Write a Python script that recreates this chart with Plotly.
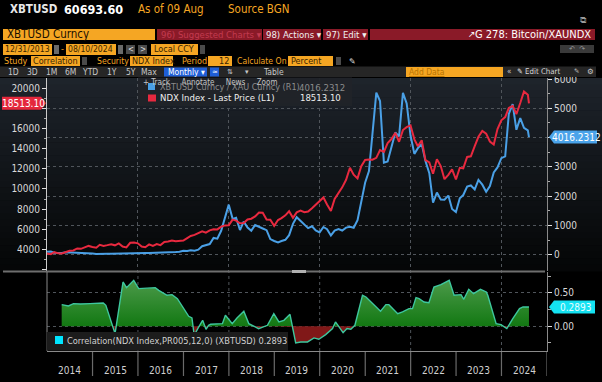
import plotly.graph_objects as go
import pandas as pd

# ---------------- data ----------------
month_dates = list(pd.date_range("2013-12-31", "2024-07-31", freq="ME").strftime("%Y-%m-%d")) + ["2024-08-09"]

ndx_last = [3592,
    3521, 3713, 3596, 3577, 3736, 3850, 3888, 4082, 4049, 4158, 4337, 4236,
    4150, 4441, 4334, 4415, 4509, 4397, 4588, 4274, 4182, 4648, 4665, 4593,
    4280, 4202, 4483, 4341, 4523, 4418, 4731, 4771, 4876, 4801, 4810, 4864,
    5115, 5330, 5436, 5584, 5789, 5647, 5880, 5988, 5980, 6248, 6374, 6397,
    6950, 6853, 6581, 6605, 6967, 7040, 7272, 7665, 7628, 6967, 6949, 6330,
    6906, 7096, 7378, 7781, 7127, 7671, 7848, 7692, 7750, 8084, 8411, 8733,
    9151, 8462, 7813, 9000, 9555, 10156, 10905, 12110, 11418, 11052, 12268, 12888,
    12925, 12909, 13091, 13860, 13687, 14554, 14959, 15583, 14690, 15850, 16135, 16320,
    14931, 14237, 14839, 12855, 12643, 11504, 12947, 12272, 10971, 11406, 11952, 10940,
    12102, 12042, 13182, 13246, 14254, 15180, 15758, 15501, 14716, 14409, 15948, 16826,
    17137, 18044, 18255, 17441, 18537, 19683, 19363, 18513.10]

xbt_xau = [102,
    110, 68, 56, 55, 80, 78, 73, 60, 51, 46, 52, 43,
    27, 34, 33, 32, 31, 36, 42, 33, 34, 44, 57, 65,
    53, 57, 54, 56, 70, 82, 74, 71, 74, 88, 102, 135,
    128, 153, 139, 171, 291, 321, 364, 572, 545, 816, 1249, 1709,
    1224, 1260, 841, 1129, 928, 820, 1015, 940, 894, 836, 532, 469,
    421, 469, 510, 666, 1054, 1280, 1146, 1016, 907, 972, 830, 763,
    946, 872, 657, 823, 878, 825, 924, 953, 919, 1181, 1783, 2456,
    2858, 4195, 5535, 5245, 3145, 3183, 3675, 4175, 4040, 5528, 5167, 4070,
    3443, 3638, 3780, 3196, 2783, 1774, 2121, 1884, 1880, 2018, 1561, 1459,
    1929, 2037, 2326, 2363, 2230, 2554, 2392, 2150, 2345, 2811, 2979, 3295,
    3356, 4809, 5141, 4266, 4664, 4333, 4245, 4016.2312]

corr_dates = ["2014-04-28", "2014-06-21", "2014-08-01", "2014-09-25", "2014-12-12", "2015-03-28",
    "2015-04-18", "2015-07-01", "2015-09-03", "2015-10-01", "2015-11-28", "2016-01-07",
    "2016-05-19", "2016-06-16", "2016-08-22", "2016-10-01", "2016-11-13", "2017-01-04",
    "2017-02-12", "2017-03-10", "2017-03-28", "2017-05-04", "2017-06-04", "2017-07-01",
    "2017-07-22", "2017-08-07", "2017-11-10", "2017-12-04", "2018-01-28", "2018-03-07",
    "2018-05-01", "2018-06-10", "2018-08-28", "2018-11-07", "2018-12-28", "2019-02-07",
    "2019-03-19", "2019-05-07", "2019-05-25", "2019-06-22", "2019-08-01", "2019-09-25",
    "2019-11-16", "2019-12-25", "2020-02-18", "2020-04-13", "2020-05-07", "2020-06-04",
    "2020-07-07", "2020-08-07", "2020-09-07", "2020-10-10", "2020-12-10", "2021-01-07",
    "2021-02-27", "2021-05-04", "2021-06-16", "2021-07-10", "2021-09-19", "2021-10-28",
    "2021-12-19", "2022-01-16", "2022-02-13", "2022-03-10", "2022-04-19", "2022-05-28",
    "2022-07-07", "2022-09-01", "2022-11-07", "2022-12-16", "2023-02-10", "2023-03-04",
    "2023-04-13", "2023-05-22", "2023-07-16", "2023-09-01", "2023-09-13", "2023-11-19",
    "2023-12-28", "2024-02-13", "2024-04-01", "2024-05-25", "2024-06-22", "2024-08-09"]
corr_values = [0.325, 0.305, 0.34, 0.335, 0.34, 0.35,
    0.315, -0.11, 0.665, 0.58, 0.69, 0.565,
    0.58, 0.54, 0.465, 0.475, 0.415, 0.265,
    0.15, 0.125, -0.135, -0.01, 0.09, -0.045,
    0.015, 0.03, 0.04, 0.165, 0.04, 0.125,
    0.225, 0.04, -0.035, 0.015, 0.19, 0.065,
    0.09, 0.18, -0.01, -0.25, -0.235, -0.235,
    -0.175, -0.195, -0.125, -0.035, 0.065, -0.01,
    -0.095, -0.035, -0.045, 0.015, 0.465, 0.44,
    0.34, 0.225, 0.325, 0.325, 0.19, 0.215,
    0.265, 0.265, 0.43, 0.415, 0.365, 0.355,
    0.59, 0.625, 0.69, 0.465, 0.475, 0.405,
    0.555, 0.49, 0.555, 0.515, 0.465, 0.04,
    0.025, -0.035, 0.115, 0.265, 0.29, 0.2893]

years = list(range(2014, 2025))
left_ticks = [2000, 4000, 6000, 8000, 10000, 12000, 14000, 16000, 18000, 20000]
left_labels = ["", "4000", "6000", "8000", "10000", "12000", "14000", "16000", "", "20000"]
right_ticks = [0, 1000, 2000, 3000, 4000, 5000, 6000]
right_labels = ["0", "1000", "2000", "3000", "", "5000", "6000"]
corr_ticks = [0.0, 0.5]
corr_labels = ["0.00", "0.50"]

# ---------------- styling ----------------
FONT = "Liberation Sans Narrow, DejaVu Sans Condensed, Liberation Sans, sans-serif"
RED = "#e8293f"
BLUE = "#4aa0e6"
ORANGE = "#f5a623"
BOXRED = "#8a1a28"
TICKC = "#d9d9d9"
GRID = "#50555b"

W, H = 602, 382
L, R, T, B = 47, 55, 78, 31
PW, PH = W - L - R, H - T - B
BOT = H - B


def X(px):
    return (px - L) / PW


def Y(py):
    return (BOT - py) / PH


shapes, annots = [], []


def box(x0, y0, x1, y1, color, layer="above"):
    shapes.append(dict(type="rect", xref="paper", yref="paper", x0=X(x0), x1=X(x1),
                       y0=Y(y1), y1=Y(y0), fillcolor=color, line_width=0, layer=layer))


def txt(px, py, s, color, size, anchor="left", family=FONT):
    annots.append(dict(xref="paper", yref="paper", x=X(px), y=Y(py), text=s, showarrow=False,
                       xanchor=anchor, yanchor="middle", borderpad=0,
                       font=dict(color=color, size=size, family=family)))


# gradient background for main panel
n = 30
top_c, bot_c = (30, 36, 43), (5, 6, 7)
for i in range(n):
    f = i / (n - 1)
    c = tuple(int(top_c[k] + (bot_c[k] - top_c[k]) * f) for k in range(3))
    y0 = T + (271 - T) * i / n
    y1 = T + (271 - T) * (i + 1) / n
    box(0, y0, 602, y1 + 0.5, "rgb(%d,%d,%d)" % c, layer="below")

# separator between panels
box(3, 270.5, 545, 272.5, "#6e6e6e")
box(292, 270, 306, 273, "#b0b0b0")
shapes.append(dict(type="line", xref="paper", yref="paper", x0=0, x1=0, y0=Y(351), y1=Y(272),
                   line=dict(color="#8a8a8a", width=1)))

# ---------------- header ----------------
txt(9, 9, "<b>XBTUSD</b>", "#e8e8e8", 11.5)
txt(63, 9, "<b>60693.60</b>", "#ffffff", 12.5)
txt(137, 9, "As of 09 Aug", ORANGE, 11.5)
txt(227, 9, "Source BGN", ORANGE, 11.5)
txt(583, 20, "⧉", "#9a9a9a", 9, anchor="center", family="DejaVu Sans")

# row 2
box(3, 29, 155, 40, ORANGE)
txt(6, 34.5, "XBTUSD Curncy", "#1a1000", 11.5)
box(157, 29, 262, 40, BOXRED)
txt(160, 34.5, "96) Suggested Charts ▾", "#c23a4f", 9.5)
box(263, 29, 321, 40, BOXRED)
txt(265, 34.5, "98) Actions ▾", "#f0f0f0", 9.5)
box(323, 29, 368, 40, BOXRED)
txt(325, 34.5, "97) Edit ▾", "#f0f0f0", 9.5)
box(370, 29, 595, 40, BOXRED)
txt(472, 34.5, "↗", "#ffffff", 9, anchor="center", family="DejaVu Sans")
txt(592, 34.5, "G 278: Bitcoin/XAUNDX", "#ffffff", 11, anchor="right")

# row 3
box(3, 44, 52, 55, ORANGE)
txt(4, 49.5, "12/31/2013", "#3a2500", 8.6)
box(54, 45, 59, 54, "#6a6a6a")
txt(62, 49.5, "-", ORANGE, 9, anchor="center")
box(66, 44, 116, 55, ORANGE)
txt(67, 49.5, "08/10/2024", "#3a2500", 8.6)
box(118, 45, 123, 54, "#6a6a6a")
box(126, 45, 135, 54, "#4a4a4a")
txt(130.5, 49.5, "<", "#dddddd", 8, anchor="center")
box(138, 45, 147, 54, "#4a4a4a")
txt(142.5, 49.5, ">", "#dddddd", 8, anchor="center")
box(151, 44, 198, 55, ORANGE)
txt(153, 49.5, "Local CCY", "#3a2500", 9)
box(200, 45, 205, 54, "#4a4a4a")
box(560, 45, 594, 53, "#3a3a3a")
txt(577, 49, "↶  ↷", "#9a9a9a", 7, anchor="center", family="DejaVu Sans")

# row 4
txt(3, 61, "Study", ORANGE, 9)
box(31, 56, 80, 66, ORANGE)
txt(32, 61, "Correlation", "#3a2500", 9)
box(82, 57, 87, 65, "#4a4a4a")
txt(96, 61, "Security", ORANGE, 8.6)
box(130, 56, 173, 66, ORANGE)
txt(131, 61, "NDX Index", "#3a2500", 9)
txt(181, 61, "Period", ORANGE, 9)
box(208, 56, 232, 66, ORANGE)
txt(230, 61, "12", "#3a2500", 9, anchor="right")
txt(236, 61, "Calculate On", ORANGE, 8.6)
box(288, 56, 333, 66, ORANGE)
txt(290, 61, "Percent", "#3a2500", 9)
box(336, 57, 341, 65, "#4a4a4a")
txt(352, 61, "✎", "#dddddd", 8, anchor="center", family="DejaVu Sans")

# row 5 toolbar
box(0, 66.5, 596, 77, "#262626")
for label, cx in [("1D", 13), ("3D", 32), ("1M", 51), ("6M", 70), ("YTD", 90),
                  ("1Y", 112), ("5Y", 131), ("Max", 149)]:
    txt(cx, 71.5, label, "#c8c8c8", 8.5, anchor="center")
box(164, 67.5, 207, 76.5, "#1f5ed6")
txt(167, 71.5, "Monthly ▾", "#ffffff", 8.5)
box(210, 67.5, 219, 76.5, "#1f5ed6")
txt(214.5, 71.5, "≃", "#ffffff", 7, anchor="center", family="DejaVu Sans")
txt(230, 71.5, "⇅", "#c8c8c8", 7, anchor="center", family="DejaVu Sans")
txt(247, 71.5, "▾", "#c8c8c8", 7, anchor="center", family="DejaVu Sans")
txt(273, 71.5, "Table", "#c8c8c8", 8.5, anchor="center")
box(406, 67, 503, 77, ORANGE)
txt(408, 71.5, "<u>Add Data</u>", "#b87400", 8.5)
txt(509, 71, "«", "#c8c8c8", 8, anchor="center")
txt(516, 71, "✎ Edit Chart", "#d8d8d8", 7.8)
txt(576, 71, "✎", "#c8c8c8", 6.5, anchor="center", family="DejaVu Sans")
txt(590, 71, "⚙", "#c8c8c8", 7.5, anchor="center", family="DejaVu Sans")

# ---------------- main legend ----------------
box(138, 77.5, 352, 106, "rgba(32,36,41,0.93)")
box(148, 83, 155, 90, BLUE)
txt(159, 87, "XBTUSD Curncy / XAU Curncy (R1)", "#8c8c8c", 9)
txt(346, 87, "4016.2312", "#8c8c8c", 9.5, anchor="right")
txt(142, 82.5, "+ Track     Annotate     News     Zoom", "#c4c4c4", 8)
box(148, 94.5, 156, 101.5, RED)
txt(159, 98, "NDX Index - Last Price (L1)", "#eeeeee", 9.5)
txt(342, 98, "18513.10", "#eeeeee", 9.5, anchor="right")

# ---------------- lower legend ----------------
box(46.5, 332, 288, 350.5, "#1c1c1c")
box(55, 336, 63, 344, "#00e5ff")
txt(66, 340, "Correlation(NDX Index,PR005,12,0) (XBTUSD) 0.2893", "#d0d0d0", 9.2)

# ---------------- value tags ----------------
shapes.append(dict(type="path", xref="paper", yref="y2", xsizemode="pixel", ysizemode="pixel",
                   xanchor=0, yanchor=ndx_last[-1],
                   path="M -1,0 L -6,6.5 L -45,6.5 L -45,-6.5 L -6,-6.5 Z",
                   fillcolor="#e4283c", line_width=0, layer="above"))
annots.append(dict(xref="paper", yref="y2", x=0, y=ndx_last[-1], xshift=-24, text="18513.10",
                   showarrow=False, xanchor="center", yanchor="middle",
                   font=dict(color="#ffffff", size=10, family=FONT)))
shapes.append(dict(type="path", xref="paper", yref="y", xsizemode="pixel", ysizemode="pixel",
                   xanchor=1, yanchor=xbt_xau[-1],
                   path="M 2,0 L 7,6.5 L 50,6.5 L 50,-6.5 L 7,-6.5 Z",
                   fillcolor="#4aa3ea", line_width=0, layer="above"))
annots.append(dict(xref="paper", yref="y", x=1, y=xbt_xau[-1], xshift=29, text="4016.2312",
                   showarrow=False, xanchor="center", yanchor="middle",
                   font=dict(color="#ffffff", size=10, family=FONT)))
shapes.append(dict(type="path", xref="paper", yref="y3", xsizemode="pixel", ysizemode="pixel",
                   xanchor=1, yanchor=corr_values[-1],
                   path="M 2,0 L 7,6.5 L 48,6.5 L 48,-6.5 L 7,-6.5 Z",
                   fillcolor="#14e2f2", line_width=0, layer="above"))
annots.append(dict(xref="paper", yref="y3", x=1, y=corr_values[-1], xshift=28, text="0.2893",
                   showarrow=False, xanchor="center", yanchor="middle",
                   font=dict(color="#e6fdff", size=10, family=FONT)))

# year labels + separators
for yr in years:
    annots.append(dict(xref="x2", yref="paper", x="%d-07-02" % yr, y=Y(370), text=str(yr),
                       showarrow=False, xanchor="center", yanchor="middle",
                       font=dict(color="#d0d0d0", size=10, family=FONT)))
for yr in years[1:] + [2025]:
    shapes.append(dict(type="line", xref="x2", yref="paper", x0="%d-01-01" % yr, x1="%d-01-01" % yr,
                       y0=Y(352), y1=Y(376), line=dict(color="#6a6a6a", width=1.2)))
for yr in [2016, 2018, 2020, 2022, 2024]:
    shapes.append(dict(type="line", xref="x2", yref="y3 domain", x0="%d-01-01" % yr, x1="%d-01-01" % yr,
                       y0=0, y1=1, layer="below", line=dict(color=GRID, width=1, dash="dot")))

# ---------------- correlation fill pieces ----------------
t = pd.to_datetime(corr_dates).astype("int64").tolist()
fx, fpos, fneg = [], [], []
for i, v in enumerate(corr_values):
    if i > 0:
        a, b = corr_values[i - 1], v
        if (a > 0 and b < 0) or (a < 0 and b > 0):
            f = a / (a - b)
            fx.append(t[i - 1] + f * (t[i] - t[i - 1]))
            fpos.append(0.0)
            fneg.append(0.0)
    fx.append(t[i])
    fpos.append(max(v, 0.0))
    fneg.append(min(v, 0.0))
fx = pd.to_datetime(fx)

fig = go.Figure()
fig.add_trace(go.Scatter(x=month_dates, y=xbt_xau, xaxis="x", yaxis="y", mode="lines",
                         line=dict(color=BLUE, width=2), hoverinfo="skip"))
fig.add_trace(go.Scatter(x=month_dates, y=ndx_last, xaxis="x", yaxis="y2", mode="lines",
                         line=dict(color=RED, width=2), hoverinfo="skip"))
fig.add_trace(go.Scatter(x=fx, y=fpos, xaxis="x2", yaxis="y3", mode="lines", line=dict(width=0),
                         fill="tozeroy",
                         fillgradient=dict(type="vertical",
                                           colorscale=[[0, "#127812"], [1, "#4c9a4a"]]),
                         hoverinfo="skip"))
fig.add_trace(go.Scatter(x=fx, y=fneg, xaxis="x2", yaxis="y3", mode="lines", line=dict(width=0),
                         fill="tozeroy", fillcolor="#801818", hoverinfo="skip"))
fig.add_trace(go.Scatter(x=corr_dates, y=corr_values, xaxis="x2", yaxis="y3", mode="lines",
                         line=dict(color="#3ec79e", width=1.4), hoverinfo="skip"))

tickfont = dict(color=TICKC, size=10, family=FONT)
main_dom = [Y(271), 1]
low_dom = [0, Y(272)]

fig.update_layout(
    width=W, height=H, margin=dict(l=L, r=R, t=T, b=B, pad=0),
    paper_bgcolor="#000000", plot_bgcolor="rgba(0,0,0,0)",
    showlegend=False, hovermode=False,
    xaxis=dict(domain=[0, 1], anchor="y", range=["2013-12-31", "2025-01-01"], showticklabels=False,
               ticks="", showgrid=True, gridcolor=GRID, griddash="dot", gridwidth=1,
               tick0="2016-01-01", dtick="M24", zeroline=False, showline=False),
    yaxis=dict(domain=main_dom, anchor="x", side="right", range=[-557, 6034],
               tickvals=right_ticks, ticktext=right_labels,
               ticks="outside", ticklen=4, tickcolor="#e0e0e0", tickfont=tickfont,
               showgrid=True, gridcolor=GRID, griddash="dot", zeroline=False,
               showline=True, linecolor="#8a8a8a", linewidth=1,
               minor=dict(tickvals=[500, 1500, 2500, 3500, 4500, 5500], ticks="outside",
                          ticklen=2, tickcolor="#aaaaaa", showgrid=False)),
    yaxis2=dict(overlaying="y", anchor="x", side="left", range=[1843, 21027],
                tickvals=left_ticks, ticktext=left_labels,
                ticks="outside", ticklen=4, tickcolor="#e0e0e0", tickfont=tickfont,
                showgrid=False, zeroline=False, showline=True, linecolor="#cccccc", linewidth=1,
                minor=dict(tickvals=[3000, 5000, 7000, 9000, 11000, 13000, 15000, 17000, 19000],
                           ticks="outside", ticklen=2, tickcolor="#aaaaaa", showgrid=False)),
    xaxis2=dict(domain=[0, 1], anchor="y3", matches="x", showticklabels=False, ticks="",
                showgrid=False, zeroline=False, showline=True, linecolor="#8a8a8a", linewidth=1),
    yaxis3=dict(domain=low_dom, anchor="x2", side="right", range=[-0.371, 0.815],
                tickvals=corr_ticks, ticktext=corr_labels, ticks="outside", ticklen=4,
                tickcolor="#e0e0e0", tickfont=tickfont, showgrid=True, gridcolor=GRID,
                griddash="dot", zeroline=False, showline=True, linecolor="#8a8a8a", linewidth=1,
                minor=dict(tickvals=[-0.25, 0.25, 0.75], ticks="outside", ticklen=3,
                           tickcolor="#aaaaaa", showgrid=False)),
    shapes=shapes, annotations=annots,
)

fig.write_html("out.html", config={"displayModeBar": False},
               post_script="document.body.style.margin='0px';document.body.style.padding='0px';"
                           "document.body.style.overflow='hidden';")
